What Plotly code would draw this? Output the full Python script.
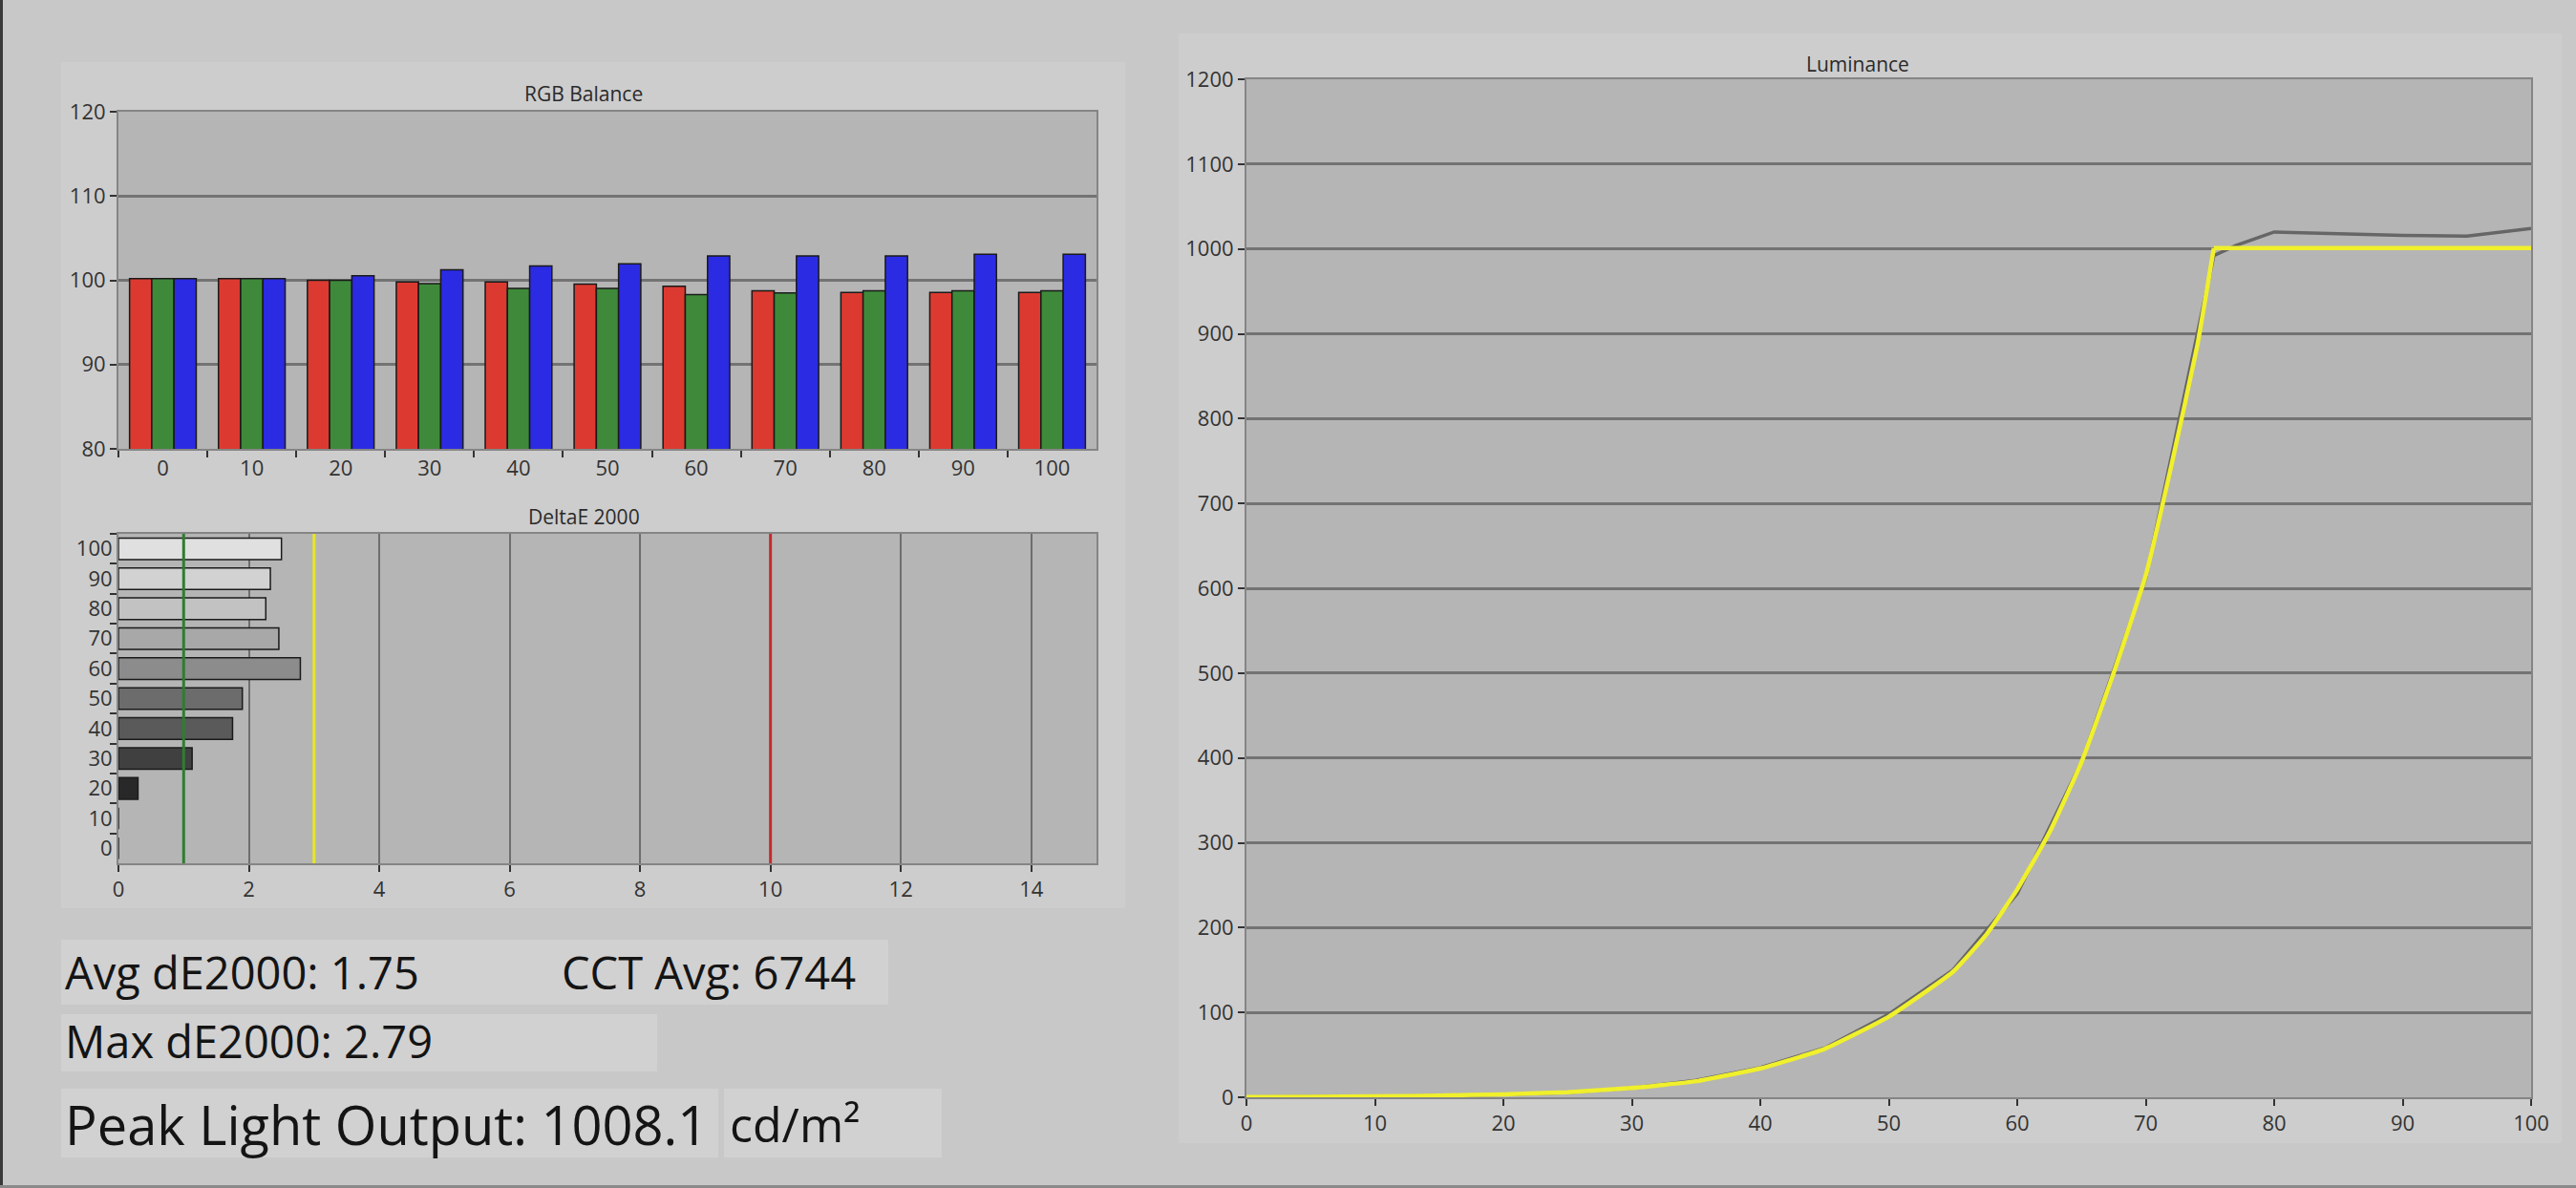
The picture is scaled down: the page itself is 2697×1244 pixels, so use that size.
import plotly.graph_objects as go

# ---------------- data ----------------
levels = ["0", "10", "20", "30", "40", "50", "60", "70", "80", "90", "100"]
red_vals = [100.2, 100.2, 100.0, 99.8, 99.8, 99.55, 99.3, 98.75, 98.55, 98.55, 98.55]
green_vals = [100.2, 100.2, 100.0, 99.6, 99.05, 99.05, 98.3, 98.5, 98.75, 98.75, 98.75]
blue_vals = [100.2, 100.2, 100.55, 101.25, 101.7, 101.95, 102.9, 102.9, 102.9, 103.1, 103.1]

de_vals = [0, 0, 0.30, 1.13, 1.75, 1.90, 2.79, 2.46, 2.26, 2.33, 2.50]
de_colors = ["#202020", "#202020", "#282828", "#404040", "#5a5a5a", "#6c6c6c",
             "#8c8c8c", "#a8a8a8", "#c2c2c2", "#d2d2d2", "#e0e0e0"]
de_ref_x = [1, 3, 10]
de_ref_colors = ["#2f7d2f", "#e6e62a", "#c8282a"]

meas_x = [0, 5, 10, 15, 20, 25, 30, 35, 40, 45, 50, 55, 60, 65, 70, 75.3, 77, 80, 85, 90, 95, 100]
meas_y = [0.3, 0.5, 1, 1.8, 3, 5.5, 11, 20, 35, 58, 98, 150, 240, 395, 612, 992, 1004, 1020, 1018, 1016, 1015, 1024]

tgt_x = [0, 5, 10, 15, 20, 25, 30, 35, 40, 45, 50, 55, 57.5, 60, 62.5, 65, 67.5, 70, 72, 74, 75.3, 80, 85, 90, 95, 100]
tgt_y = [0.2, 0.5, 1, 2, 3.5, 6, 11, 19, 34, 57, 95, 148, 190, 245, 312, 395, 500, 615, 745, 885, 1001, 1001, 1001, 1001, 1001, 1001]
tgt_knee = 20  # index of the clipping point (75.3 %)

stats = [
    ("Avg dE2000: 1.75", 67, 1018, 47),
    ("CCT Avg: 6744", 587, 1018, 47),
    ("Max dE2000: 2.79", 67, 1090, 47),
    ("Peak Light Output: 1008.1", 67, 1177, 56),
    ("cd/m²", 763, 1177, 50),
]

W, H = 2697, 1244
def px(x):
    return x / W
def py(y):
    return 1 - y / H

PAGE = "#c8c8c8"
PANEL = "#cdcdcd"
PLOT = "#b5b5b5"
GRID = "#737373"
BORDER = "#858585"
TXT = "#2a2a2a"
FONT = "Open Sans"
YELLOW = "#f0f02c"

fig = go.Figure()

# RGB balance
for name, vals, col in [("R", red_vals, "#dc3a30"), ("G", green_vals, "#3e8a3a"), ("B", blue_vals, "#2b2be4")]:
    fig.add_trace(go.Bar(x=levels, y=vals, name=name, marker=dict(color=col, line=dict(color="#1a1a1a", width=1.5)),
                         xaxis="x", yaxis="y", showlegend=False))

# DeltaE
fig.add_trace(go.Bar(x=de_vals, y=levels, orientation="h", width=0.72,
                     marker=dict(color=de_colors, line=dict(color="#1a1a1a", width=1.5)),
                     xaxis="x2", yaxis="y2", showlegend=False))

# Luminance
fig.add_trace(go.Scatter(x=meas_x, y=meas_y, mode="lines", line=dict(color="#666666", width=3.5),
                         xaxis="x3", yaxis="y3", showlegend=False))
fig.add_trace(go.Scatter(x=tgt_x[:tgt_knee + 1], y=tgt_y[:tgt_knee + 1], mode="lines",
                         line=dict(color=YELLOW, width=4.5, shape="spline", smoothing=0.4),
                         xaxis="x3", yaxis="y3", showlegend=False))
fig.add_trace(go.Scatter(x=tgt_x[tgt_knee:], y=tgt_y[tgt_knee:], mode="lines",
                         line=dict(color=YELLOW, width=4.5),
                         xaxis="x3", yaxis="y3", showlegend=False))

shapes = []
# page edges
shapes.append(dict(type="rect", xref="paper", yref="paper", x0=0, x1=px(3), y0=0, y1=1,
                   fillcolor="#3a3a3a", line=dict(width=0), layer="below"))
shapes.append(dict(type="rect", xref="paper", yref="paper", x0=0, x1=1, y0=0, y1=py(1241),
                   fillcolor="#8a8a8a", line=dict(width=0), layer="below"))
# panels
shapes.append(dict(type="rect", xref="paper", yref="paper", x0=px(64), x1=px(1178), y0=py(951), y1=py(65),
                   fillcolor=PANEL, line=dict(width=0), layer="below"))
shapes.append(dict(type="rect", xref="paper", yref="paper", x0=px(1234), x1=px(2682), y0=py(1197), y1=py(35),
                   fillcolor=PANEL, line=dict(width=0), layer="below"))
# stat text boxes
for (x0, y0, x1, y1) in [(64, 984, 688, 1052), (576, 984, 930, 1052), (64, 1062, 688, 1122),
                         (64, 1140, 752, 1212), (758, 1140, 986, 1212)]:
    shapes.append(dict(type="rect", xref="paper", yref="paper", x0=px(x0), x1=px(x1), y0=py(y1), y1=py(y0),
                       fillcolor="#d1d1d1", line=dict(width=0), layer="below"))
# plot backgrounds (drawn over the panels)
for xa, ya in [("x", "y"), ("x2", "y2"), ("x3", "y3")]:
    shapes.append(dict(type="rect", xref=xa + " domain", yref=ya + " domain", x0=0, x1=1, y0=0, y1=1,
                       fillcolor=PLOT, line=dict(width=0), layer="below"))
# deltaE reference lines
for xv, c in zip(de_ref_x, de_ref_colors):
    shapes.append(dict(type="line", xref="x2", yref="y2 domain", x0=xv, x1=xv, y0=0, y1=1,
                       line=dict(color=c, width=3), layer="above"))

annotations = []
for t, xx, yy in [("RGB Balance", 611, 98), ("DeltaE 2000", 611, 541), ("Luminance", 1945, 67)]:
    annotations.append(dict(text=t, x=px(xx), y=py(yy), xref="paper", yref="paper", showarrow=False,
                            xanchor="center", yanchor="middle", font=dict(family=FONT, size=21, color=TXT)))
for t, xx, yy, fs in stats:
    annotations.append(dict(text=t, x=px(xx), y=py(yy), xref="paper", yref="paper", showarrow=False,
                            xanchor="left", yanchor="middle", borderpad=0,
                            font=dict(family=FONT, size=fs, color="#141414")))

tickfont = dict(family=FONT, size=22, color="#333333")
common_axis = dict(showline=True, mirror=True, linecolor=BORDER, linewidth=2, ticks="outside",
                   tickcolor="#333333", ticklen=7, tickwidth=2, tickfont=tickfont, zeroline=False,
                   automargin=False)

fig.update_layout(
    width=W, height=H, margin=dict(l=0, r=0, t=0, b=0, pad=0, autoexpand=False),
    paper_bgcolor=PAGE, plot_bgcolor=PLOT, showlegend=False,
    barmode="group", bargap=0.25, bargroupgap=0,
    shapes=shapes, annotations=annotations,
    xaxis=dict(domain=[px(124), px(1148)], anchor="y", type="category", tickson="boundaries",
               showgrid=False, **common_axis),
    yaxis=dict(domain=[py(470), py(117)], anchor="x", range=[80, 120], dtick=10,
               showgrid=True, gridcolor=GRID, gridwidth=3, **common_axis),
    xaxis2=dict(domain=[px(124), px(1148)], anchor="y2", range=[0, 15], dtick=2,
                showgrid=True, gridcolor="#6e6e6e", gridwidth=2, **common_axis),
    yaxis2=dict(domain=[py(904), py(559)], anchor="x2", type="category", tickson="boundaries",
                showgrid=False, **common_axis),
    xaxis3=dict(domain=[px(1305), px(2650)], anchor="y3", range=[0, 100], dtick=10,
                showgrid=False, **common_axis),
    yaxis3=dict(domain=[py(1149), py(83)], anchor="x3", range=[0, 1200], dtick=100,
                showgrid=True, gridcolor=GRID, gridwidth=3, **common_axis),
)

fig.write_html("out.html", config={"displayModeBar": False},
               post_script="document.body.style.margin='0px';document.body.style.padding='0px';"
                           "document.body.style.overflow='hidden';document.body.style.background='#c8c8c8';")
